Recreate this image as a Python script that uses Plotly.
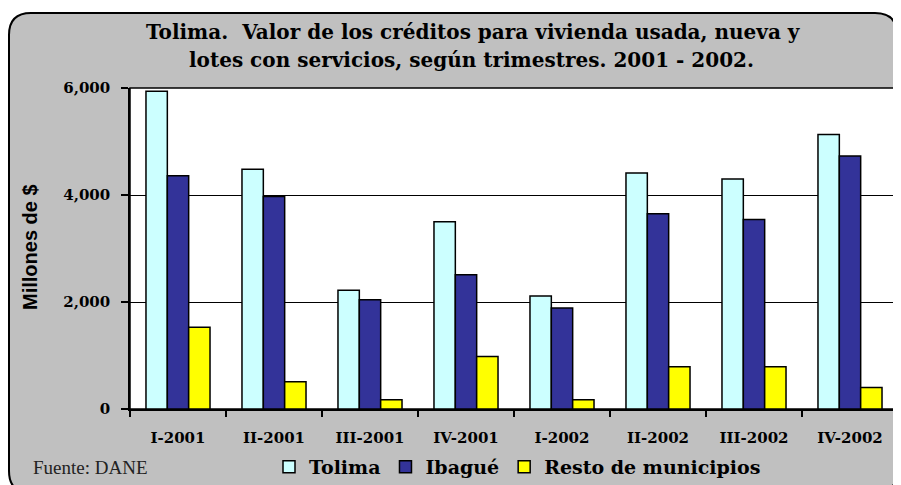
import plotly.graph_objects as go

categories = ["I-2001", "II-2001", "III-2001", "IV-2001", "I-2002", "II-2002", "III-2002", "IV-2002"]
tolima = [5940, 4480, 2220, 3500, 2110, 4410, 4300, 5130]
ibague = [4360, 3970, 2040, 2510, 1890, 3650, 3540, 4730]
resto = [1530, 510, 175, 980, 175, 790, 790, 400]
series_names = ["Tolima", "Ibagué", "Resto de municipios"]
series_colors = ["#CCFFFF", "#333399", "#FFFF00"]
y_ticks = [0, 2000, 4000, 6000]

# page body has an 8px margin: lay out in screen pixels, then shift
OFF = 8
SW, SH = 901, 485
W, H = SW - OFF, SH - OFF
# plot area in screen pixels
S_L, S_R, S_T, S_B = 130, 898, 88, 409
ML, MR, MT, MB = S_L - OFF, SW - S_R, S_T - OFF, SH - S_B


def px(x):
    return (x - S_L) / (S_R - S_L)


def py(y):
    return (S_B - y) / (S_B - S_T)


SERIF = "DejaVu Serif"

fig = go.Figure()
for name, vals, col in zip(series_names, [tolima, ibague, resto], series_colors):
    fig.add_trace(go.Bar(
        x=categories, y=vals, name=name,
        marker=dict(color=col, line=dict(color="black", width=1.5)),
    ))

# rounded gray frame (screen pixel coords)
x0, x1, y0, y1, r = 9, 897, 13, 493, 22
pts = [
    f"M {px(x0 + r)},{py(y0)}",
    f"L {px(x1 - r)},{py(y0)}",
    f"Q {px(x1)},{py(y0)} {px(x1)},{py(y0 + r)}",
    f"L {px(x1)},{py(y1 - r)}",
    f"Q {px(x1)},{py(y1)} {px(x1 - r)},{py(y1)}",
    f"L {px(x0 + r)},{py(y1)}",
    f"Q {px(x0)},{py(y1)} {px(x0)},{py(y1 - r)}",
    f"L {px(x0)},{py(y0 + r)}",
    f"Q {px(x0)},{py(y0)} {px(x0 + r)},{py(y0)}",
    "Z",
]
shapes = [
    dict(type="path", xref="paper", yref="paper", path=" ".join(pts),
         fillcolor="#C0C0C0", line=dict(color="black", width=2), layer="below"),
    dict(type="rect", xref="paper", yref="paper", x0=0, x1=1, y0=0, y1=1,
         fillcolor="white", line=dict(color="black", width=1.5), layer="below"),
]

annotations = [
    dict(text="<b>Tolima.  Valor de los créditos para vivienda usada, nueva y</b>",
         x=px(473), y=py(32), xref="paper", yref="paper", showarrow=False,
         xanchor="center", yanchor="middle",
         font=dict(family=SERIF, size=20, color="black")),
    dict(text="<b>lotes con servicios, según trimestres. 2001 - 2002.</b>",
         x=px(471), y=py(60), xref="paper", yref="paper", showarrow=False,
         xanchor="center", yanchor="middle",
         font=dict(family=SERIF, size=20, color="black")),
    dict(text="<b>Millones de $</b>", x=px(30), y=py(247), xref="paper", yref="paper",
         showarrow=False, textangle=-90, xanchor="center", yanchor="middle",
         font=dict(family="Liberation Sans", size=20, color="black")),
    dict(text="Fuente: DANE", x=px(31), y=py(468), xref="paper", yref="paper",
         showarrow=False, xanchor="left", yanchor="middle",
         font=dict(family="Liberation Serif", size=19, color="#222")),
]

fig.update_layout(
    width=W, height=H,
    margin=dict(l=ML, r=MR, t=MT, b=MB, pad=0, autoexpand=False),
    paper_bgcolor="white", plot_bgcolor="white",
    barmode="group", bargap=0.333, bargroupgap=0,
    shapes=shapes, annotations=annotations,
    showlegend=True,
    legend=dict(orientation="h", x=px(269), y=py(467), xanchor="left", yanchor="middle",
                bgcolor="rgba(0,0,0,0)", itemwidth=30,
                font=dict(family=SERIF, size=19, color="black", weight="bold"),
                traceorder="normal"),
    xaxis=dict(
        type="category", tickson="boundaries", ticks="outside", ticklen=6,
        tickcolor="black", tickwidth=1.5, showline=True, linecolor="black", linewidth=1.5,
        tickfont=dict(family=SERIF, size=15, color="black", weight="bold"),
        ticklabelstandoff=14, showgrid=False,
    ),
    yaxis=dict(
        range=[0, 6000], tickvals=y_ticks,
        ticktext=[f"{v:,}" for v in y_ticks],
        ticks="outside", ticklen=7, tickcolor="black", tickwidth=1.5,
        showline=True, linecolor="black", linewidth=1.5,
        showgrid=True, gridcolor="black", gridwidth=1.2, zeroline=False,
        tickfont=dict(family=SERIF, size=15, color="black", weight="bold"),
        ticklabelstandoff=8,
    ),
)

fig.write_html("out.html")
